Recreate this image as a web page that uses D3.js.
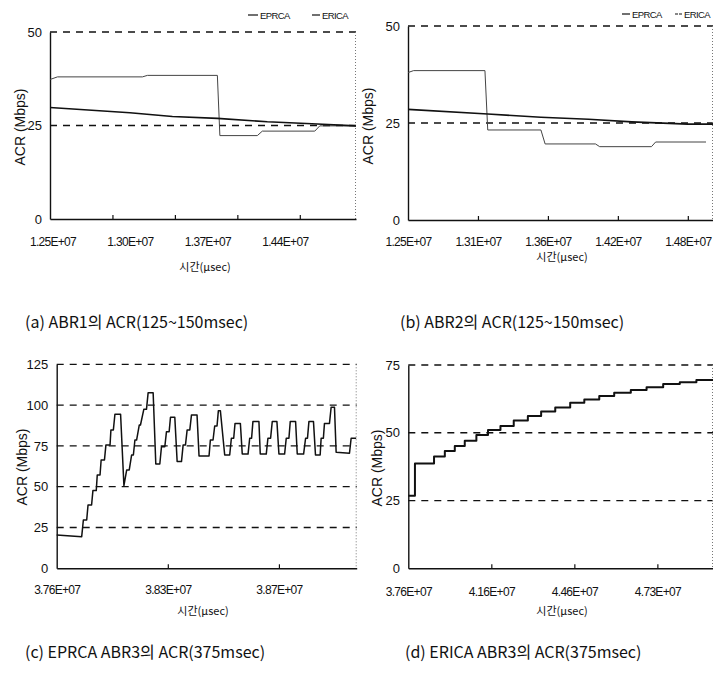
<!DOCTYPE html>
<html>
<head>
<meta charset="utf-8">
<script src="https://cdn.jsdelivr.net/npm/d3@7"></script>
<style>
  body { margin: 0; background: #fff; }
  svg { display: block; }
</style>
</head>
<body>
<svg id="chart" width="713" height="682"></svg>
<script>
// x values are the sample (category) index of the sheet, as in the Excel line charts
// (a) ABR1, 125~150 msec
const a_eprca = [[0, 29.8], [64, 28.4], [98, 27.4], [134, 26.9], [174, 26.0], [214, 25.4], [245, 24.9]];
const a_erica = [[0, 37.3], [6, 38.0], [74, 38.0], [78, 38.4], [134, 38.4], [136, 22.3], [166, 22.3],
  [170, 23.5], [212, 23.5], [216, 24.9], [245, 24.9]];
const a_labels = ["1.25E+07", "1.30E+07", "1.37E+07", "1.44E+07"];
const a_labelAt = [2, 64, 126, 188];
const a_tickAt = [50, 100, 150, 200];

// (b) ABR2, 125~150 msec
const b_eprca = [[0, 28.5], [57, 27.3], [95, 26.5], [129, 25.95], [160, 25.3], [200, 24.7], [218, 24.7]];
const b_erica = [[0, 38.0], [4, 38.5], [55, 38.5], [57, 23.2], [95, 23.2], [98, 19.6], [134, 19.6],
  [137, 18.9], [174, 18.9], [177, 20.1], [213, 20.1]];
const b_labels = ["1.25E+07", "1.31E+07", "1.36E+07", "1.42E+07", "1.48E+07"];
const b_labelAt = [0, 50, 100, 150, 200];

// (c) EPRCA ABR3, 375 msec
const c_eprca = [[0, 20.4], [22.5, 19.4], [24, 29.6], [27, 29.6], [28.2, 38.8], [31.4, 38.8],
  [32.6, 47.6], [35.6, 47.6], [36.5, 57.2], [39, 57.2], [40, 66.4], [43, 66.4], [44.3, 75.6],
  [48, 75.6], [48.8, 84.8], [51, 84.8], [52.4, 94.4], [57.5, 94.4], [60.5, 50.6], [63, 60.3],
  [65.3, 60.3], [67.4, 69.4], [69, 69.4], [70.4, 78.6], [71.9, 78.6], [74.3, 87.8], [75.4, 87.8],
  [78.4, 97.4], [80.8, 97.4], [82.3, 107.6], [86.8, 107.6], [89.2, 63.9], [92.8, 63.9],
  [94.3, 74.5], [97.3, 74.5], [98.8, 83.7], [101.2, 83.7], [102.4, 92.5], [106.3, 92.5],
  [108.4, 65.4], [112.3, 65.4], [113.8, 75.6], [115.9, 75.6], [117.4, 84.8], [119.8, 84.8],
  [121.3, 94], [126.3, 94], [128.1, 68.8], [137.1, 68.8], [138.3, 78.6], [140.7, 78.6],
  [142.2, 87.2], [144.3, 87.2], [145.5, 96.6], [147.3, 96.6], [151.2, 69.4], [155.7, 69.4],
  [157.2, 79.7], [159.3, 79.7], [160.5, 88.8], [165.3, 88.8], [167, 70], [172.2, 70],
  [173.7, 79.7], [175.4, 79.7], [176.6, 89.9], [182, 89.9], [183.2, 70], [188.6, 70],
  [190.1, 79.7], [192.5, 79.7], [194, 89.9], [198.2, 89.9], [200, 70], [205.1, 70],
  [206.6, 79.7], [209, 79.7], [210.2, 89.9], [215, 89.9], [216.5, 70], [222.2, 70],
  [224, 79.7], [225.7, 79.7], [227, 89.9], [231.1, 89.9], [232.9, 69.4], [237.1, 69.4],
  [238, 79.7], [240, 79.7], [241, 88.8], [245.5, 88.8], [247, 98.7], [250, 98.7],
  [251.5, 71.1], [263.5, 70.5], [265, 79.7], [269.5, 79.7]];
const c_labels = ["3.76E+07", "3.83E+07", "3.87E+07"];
const c_labelAt = [0, 100, 200];

// (d) ERICA ABR3, 375 msec (step series: value holds until the next sample)
const d_erica = [[0, 26.8], [8, 38.7], [31, 41.2], [44, 43.3], [56, 45.1], [68, 47.1], [82, 49.2],
  [96, 51.0], [111, 52.5], [127, 54.5], [144, 56.2], [160, 57.8], [177, 59.3], [195, 61.1],
  [212, 62.3], [230, 63.6], [248, 64.8], [268, 65.8], [287, 66.8], [307, 68.0], [327, 68.6],
  [347, 69.5], [367, 69.5]];
const d_labels = ["3.76E+07", "4.16E+07", "4.46E+07", "4.73E+07"];
const d_labelAt = [0, 100, 200, 300];

const svg = d3.select("#chart");
const NUM_FONT = "'Liberation Sans', Arial, sans-serif";
const KR_FONT = "'Noto Sans CJK KR', 'Noto Sans', sans-serif";

function drawPanel(p) {
  const x = d3.scaleLinear().domain([0, p.xMax]).range([p.left, p.right]);
  const y = d3.scaleLinear().domain([0, p.yMax]).range([p.bottom, p.top]);
  const g = svg.append("g");

  // dashed gridlines (top one doubles as the frame)
  g.selectAll(".grid")
    .data(p.yTicks.filter((d) => d > 0))
    .join("line")
    .attr("class", "grid")
    .attr("x1", p.left)
    .attr("x2", p.right)
    .attr("y1", (d) => y(d))
    .attr("y2", (d) => y(d))
    .attr("stroke", "#111")
    .attr("stroke-width", 1.3)
    .attr("stroke-dasharray", "7,6");

  // dotted right frame
  g.append("line")
    .attr("x1", p.right - 0.5)
    .attr("x2", p.right - 0.5)
    .attr("y1", p.top)
    .attr("y2", p.bottom)
    .attr("stroke", "#777")
    .attr("stroke-width", 1)
    .attr("stroke-dasharray", "1,2");

  // y axis
  g.append("g")
    .attr("transform", `translate(${p.left},0)`)
    .call(d3.axisLeft(y).tickValues(p.yTicks).tickSize(0).tickSizeOuter(0).tickPadding(p.yPad))
    .call((s) => s.select(".domain").attr("stroke", "#111").attr("stroke-width", 1.4))
    .selectAll("text")
    .attr("font-family", NUM_FONT)
    .attr("font-size", 13)
    .attr("fill", "#111");

  // x axis: tick marks and labels sit at different categories
  g.append("g")
    .attr("transform", `translate(0,${p.bottom})`)
    .call(d3.axisBottom(x).tickValues(p.tickAt).tickSize(-4).tickSizeOuter(0).tickFormat(""))
    .call((s) => s.select(".domain").attr("stroke", "#111").attr("stroke-width", 1.4))
    .call((s) => s.selectAll(".tick line").attr("stroke", "#111").attr("stroke-width", 1.2));

  g.append("g")
    .attr("transform", `translate(0,${p.bottom})`)
    .call(
      d3.axisBottom(x)
        .tickValues(p.labelAt)
        .tickSize(0)
        .tickPadding(p.xPad)
        .tickFormat((d, i) => p.labels[i])
    )
    .call((s) => s.select(".domain").remove())
    .selectAll("text")
    .attr("font-family", NUM_FONT)
    .attr("font-size", 12)
    .attr("letter-spacing", -0.7)
    .attr("fill", "#111");

  // series
  p.series.forEach((s) => {
    const line = d3.line()
      .x((d) => x(d[0]))
      .y((d) => y(d[1]))
      .curve(s.curve || d3.curveLinear);
    g.append("path")
      .datum(s.data)
      .attr("fill", "none")
      .attr("stroke", s.color)
      .attr("stroke-width", s.width)
      .attr("stroke-linejoin", "round")
      .attr("d", line);
  });

  // axis titles
  g.append("text")
    .attr("transform", `translate(${p.yTitle[0]},${p.yTitle[1]}) rotate(-90)`)
    .attr("text-anchor", "middle")
    .attr("dominant-baseline", "central")
    .attr("font-family", NUM_FONT)
    .attr("font-size", 14)
    .attr("fill", "#111")
    .text("ACR (Mbps)");

  g.append("text")
    .attr("x", p.xTitle[0])
    .attr("y", p.xTitle[1])
    .attr("text-anchor", "middle")
    .attr("font-family", KR_FONT)
    .attr("font-size", 11)
    .attr("fill", "#111")
    .text("시간(μsec)");

  // legend
  (p.legend || []).forEach((l) => {
    g.append("line")
      .attr("x1", l.x)
      .attr("x2", l.x + l.len)
      .attr("y1", l.y)
      .attr("y2", l.y)
      .attr("stroke", "#111")
      .attr("stroke-width", 1.2)
      .attr("stroke-dasharray", l.dash || null);
    g.append("text")
      .attr("x", l.x + l.len + 2)
      .attr("y", l.y + 3.5)
      .attr("font-family", NUM_FONT)
      .attr("font-size", 9.5)
      .attr("letter-spacing", -0.6)
      .attr("fill", "#111")
      .text(l.name);
  });

  // caption
  g.append("text")
    .attr("x", p.caption[0])
    .attr("y", p.caption[1])
    .attr("font-family", KR_FONT)
    .attr("font-size", 16)
    .attr("fill", "#111")
    .text(p.caption[2]);
}

drawPanel({
  left: 50, right: 356, top: 32, bottom: 219,
  xMax: 245, yMax: 50, yTicks: [0, 25, 50], yPad: 8, xPad: 18,
  tickAt: a_tickAt, labelAt: a_labelAt, labels: a_labels,
  series: [
    { data: a_erica, color: "#444", width: 1 },
    { data: a_eprca, color: "#111", width: 1.6 },
  ],
  yTitle: [20, 127], xTitle: [205, 271],
  legend: [
    { x: 248, y: 15, len: 10, name: "EPRCA" },
    { x: 312, y: 15, len: 8, name: "ERICA" },
  ],
  caption: [25, 328, "(a) ABR1의 ACR(125~150msec)"],
});

drawPanel({
  left: 408, right: 713, top: 26, bottom: 220,
  xMax: 218, yMax: 50, yTicks: [0, 25, 50], yPad: 8, xPad: 17,
  tickAt: b_labelAt.slice(1), labelAt: b_labelAt, labels: b_labels,
  series: [
    { data: b_erica, color: "#444", width: 1 },
    { data: b_eprca, color: "#111", width: 1.6 },
  ],
  yTitle: [368, 126], xTitle: [562, 261],
  legend: [
    { x: 622, y: 14, len: 8, name: "EPRCA" },
    { x: 675, y: 14, len: 7, name: "ERICA", dash: "3,1" },
  ],
  caption: [400, 328, "(b) ABR2의 ACR(125~150msec)"],
});

drawPanel({
  left: 56.7, right: 356.7, top: 364.3, bottom: 568.3,
  xMax: 270, yMax: 125, yTicks: [0, 25, 50, 75, 100, 125], yPad: 8.5, xPad: 17,
  tickAt: c_labelAt.slice(1), labelAt: c_labelAt, labels: c_labels,
  series: [{ data: c_eprca, color: "#111", width: 1.5 }],
  yTitle: [22, 467], xTitle: [203, 615],
  caption: [25, 658, "(c) EPRCA ABR3의 ACR(375msec)"],
});

drawPanel({
  left: 408.3, right: 713, top: 365, bottom: 568.3,
  xMax: 367, yMax: 75, yTicks: [0, 25, 50, 75], yPad: 8.3, xPad: 19,
  tickAt: d_labelAt.slice(1), labelAt: d_labelAt, labels: d_labels,
  series: [{ data: d_erica, color: "#111", width: 2, curve: d3.curveStepAfter }],
  yTitle: [377, 468], xTitle: [562, 615],
  caption: [405, 658, "(d) ERICA ABR3의 ACR(375msec)"],
});
</script>
</body>
</html>
